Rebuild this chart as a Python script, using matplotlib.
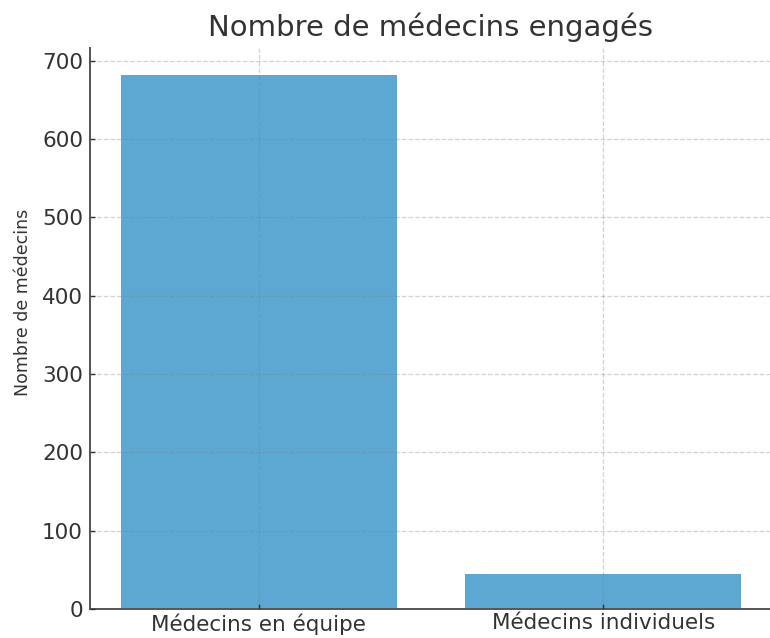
import matplotlib
matplotlib.use("Agg")
import matplotlib.pyplot as plt

# ----------------- DATOS -----------------
categories = ["Médecins en équipe", "Médecins individuels"]
values = [682, 45]
yticks = [0, 100, 200, 300, 400, 500, 600, 700]

title = "Nombre de médecins engagés"
ylabel = "Nombre de médecins"

# ----------------- FIGURA -----------------
fig = plt.figure(figsize=(7.70, 6.38), dpi=100)
ax = fig.add_axes([90 / 770, 29 / 638, 682 / 770, 561 / 638])

ax.bar(categories, values, width=0.8, color="#5ca8d2", zorder=2)
ax.grid(True, linestyle="--", color="#808080", alpha=0.35, linewidth=0.9, zorder=3)
ax.set_axisbelow(False)

ax.set_yticks(yticks)
ax.tick_params(axis="both", labelsize=15.5, labelcolor="#333333", color="#333333",
               direction="in", length=3.5, width=1)
ax.tick_params(axis="y", pad=5)
ax.tick_params(axis="x", pad=3)
ax.spines["top"].set_visible(False)
ax.spines["right"].set_visible(False)
for s in ["left", "bottom"]:
    ax.spines[s].set_color("#555555")
    ax.spines[s].set_linewidth(1.4)

ax.set_ylabel(ylabel, fontsize=12.5, color="#333333")
ax.yaxis.set_label_coords(-0.085, 0.547)
ax.set_title(title, fontsize=21, color="#333333", pad=8.5)

fig.savefig("out.png", dpi=100)
